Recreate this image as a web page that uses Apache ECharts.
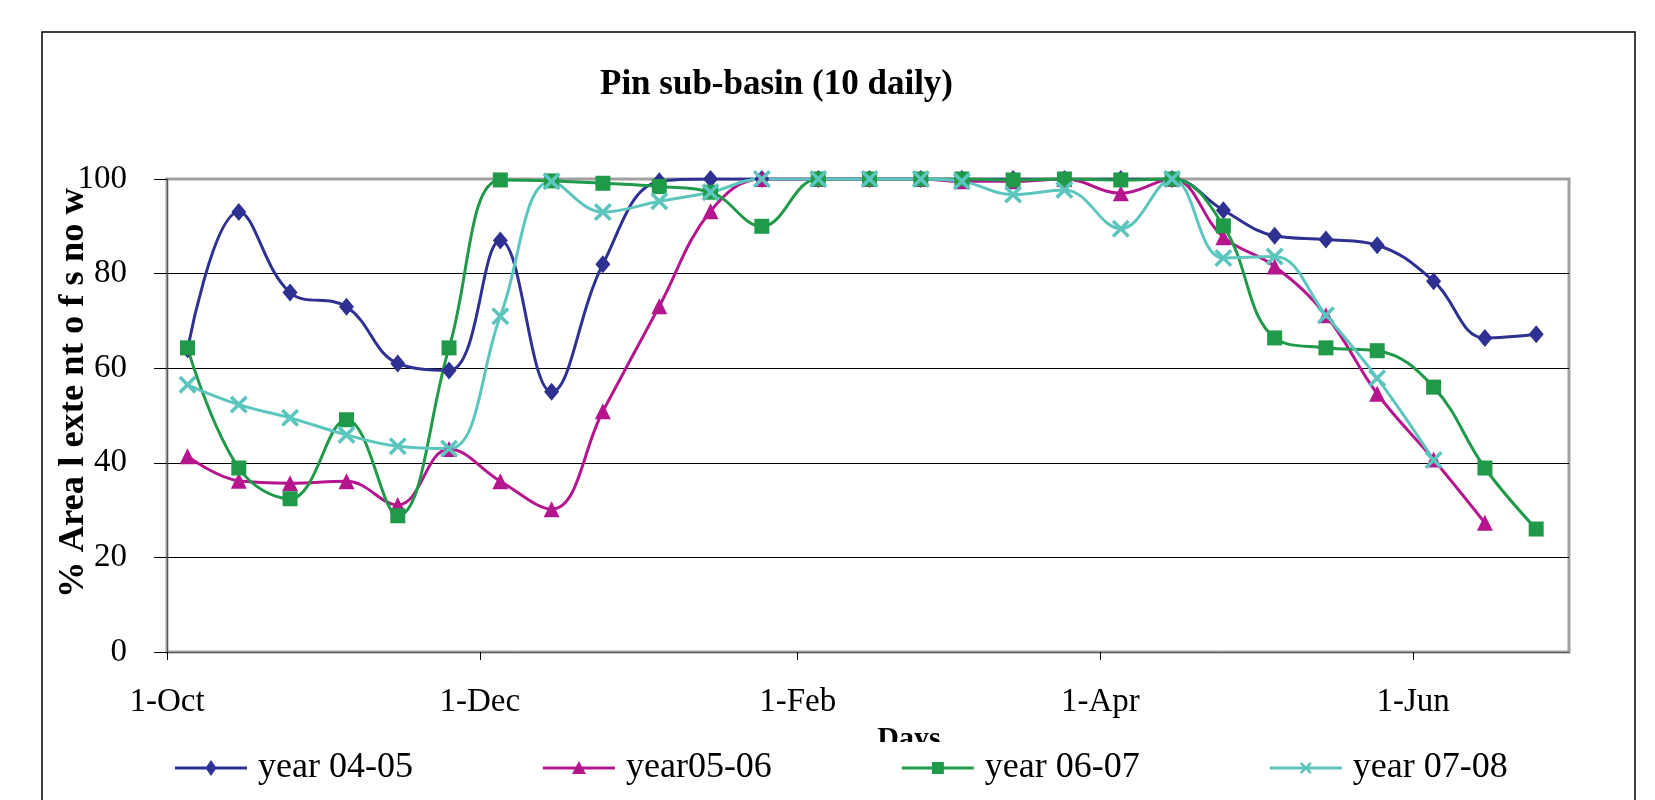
<!DOCTYPE html>
<html>
<head>
<meta charset="utf-8">
<script src="https://cdn.jsdelivr.net/npm/echarts@6/dist/echarts.min.js"></script>
<style>
html,body{margin:0;padding:0;background:#fff;}
#chart{width:1655px;height:800px;}
</style>
</head>
<body>
<div id="chart"></div>
<script>
// Days counted from 1-Oct (10-daily: 5th, 15th, 25th of each month)
const days = [4,14,24,35,45,55,65,75,85,96,106,116,127,137,147,155,165,175,186,196,206,216,226,236,247,257,267];
const tickDays = [0,61,123,182,243];
const tickLabels = ['1-Oct','1-Dec','1-Feb','1-Apr','1-Jun'];
const seriesNames = ['year 04-05','year05-06','year 06-07','year 07-08'];
const year0405 = [64,93,76,73,61,59.5,87,55,82,99.5,100,100,100,100,100,100,100,100,100,100,93.4,88,87.2,86,78.4,66.4,67.2];
const year0506 = [41.4,36.2,35.7,36.1,31.1,42.9,36.1,30.2,50.9,73.1,93.2,100,100,100,100,99.5,99.5,100,97,100,87.7,81.5,71.2,54.6,40.7,27.3,null];
const year0607 = [64.3,38.9,32.4,49.1,28.8,64.3,99.8,99.6,99.1,98.4,97.2,90,100,100,100,100,99.8,100,99.8,100,90.1,66.4,64.3,63.7,56,38.9,26];
const year0708 = [56.5,52.3,49.5,45.9,43.5,43,71,99.5,93,95.3,97.2,100,100,100,100,99.5,96.7,97.7,89.5,100,83.3,83.6,71.2,57.9,40.6,null,null];
const yTickInterval = 20;

const colors = ['#2e3192','#b5168e','#1f9a48','#5cc6be'];
const symbols = ['diamond','triangle','rect','path://M0,1.4 L1.4,0 L5,3.6 L8.6,0 L10,1.4 L6.4,5 L10,8.6 L8.6,10 L5,6.4 L1.4,10 L0,8.6 L3.6,5 Z'];
const symbolSizes = [[15,18],16,15,18];
const allValues = [year0405, year0506, year0607, year0708];

// legend icons: 3px line with marker in the middle (72 x 16 box)
const legendLine = 'M0,6.5 L72,6.5 L72,9.5 L0,9.5 Z ';
const legendIcons = [
  'path://' + legendLine + 'M36,0 L41.5,8 L36,16 L30.5,8 Z',
  'path://' + legendLine + 'M36,1 L43,14 L29,14 Z M0,0 L0,0 M72,16 L72,16',
  'path://' + legendLine + 'M30,2 L42,2 L42,14 L30,14 Z M0,0 L0,0 M72,16 L72,16',
  'path://' + legendLine + 'M30,3.7 L31.7,2 L36,6.3 L40.3,2 L42,3.7 L37.7,8 L42,12.3 L40.3,14 L36,9.7 L31.7,14 L30,12.3 L34.3,8 Z M0,0 L0,0 M72,16 L72,16'
];

const font = '"Liberation Serif", "Times New Roman", serif';

const chart = echarts.init(document.getElementById('chart'));
chart.setOption({
  animation: false,
  backgroundColor: '#fff',
  title: {
    text: 'Pin sub-basin (10 daily)',
    left: 595,
    top: 62,
    textStyle: {fontFamily: font, fontWeight: 'bold', fontSize: 35, color: '#000'}
  },
  graphic: [
    {type: 'rect', z: -10, silent: true, shape: {x: 42, y: 32, width: 1593, height: 800},
     style: {fill: 'none', stroke: '#000', lineWidth: 1.5}},
    {type: 'text', z: 10, x: 74, y: 393, rotation: Math.PI / 2,
     style: {text: '% Area l exte nt o f s no w', font: 'bold 36.5px ' + font, fill: '#000',
             align: 'center', verticalAlign: 'middle', textAlign: 'center', textVerticalAlign: 'middle'}}
  ],
  grid: {
    left: 167, top: 179, width: 1402, height: 473,
    show: true, borderColor: '#a0a0a0', borderWidth: 3, backgroundColor: 'transparent'
  },
  xAxis: {
    type: 'value', min: 0, max: 273.4,
    name: 'Days', nameLocation: 'middle', nameGap: 44,
    nameTextStyle: {fontFamily: font, fontWeight: 'bold', fontSize: 30, color: '#000', padding: [0, 0, 0, 82]},
    axisLine: {show: true, lineStyle: {color: '#555', width: 1}},
    axisTick: {show: true, length: 8, lineStyle: {color: '#000'}, customValues: tickDays},
    axisLabel: {
      fontFamily: font, fontSize: 33, color: '#000', margin: 34,
      customValues: tickDays,
      formatter: function (v) { const i = tickDays.indexOf(v); return i >= 0 ? tickLabels[i] : ''; }
    },
    splitLine: {show: false}
  },
  yAxis: {
    type: 'value', min: 0, max: 100, interval: yTickInterval,
    axisLine: {show: true, lineStyle: {color: '#555', width: 1}},
    axisTick: {show: true, length: 13, lineStyle: {color: '#000'}},
    axisLabel: {fontFamily: font, fontSize: 33, color: '#000', margin: 40},
    splitLine: {show: true, showMinLine: false, showMaxLine: false, lineStyle: {color: '#000', width: 1.2}}
  },
  legend: {
    left: 165, top: 742,
    padding: [8, 10, 10, 10],
    backgroundColor: '#fff',
    itemWidth: 72, itemHeight: 16, itemGap: 130,
    data: seriesNames.map(function (n, k) { return {name: n, icon: legendIcons[k]}; }),
    textStyle: {fontFamily: font, fontSize: 36, color: '#000', padding: [0, 0, 0, 6]}
  },
  series: seriesNames.map(function (name, k) {
    return {
      name: name,
      type: 'line',
      smooth: 0.4,
      symbol: symbols[k],
      symbolSize: symbolSizes[k],
      showAllSymbol: true,
      lineStyle: {color: colors[k], width: 3},
      itemStyle: {color: colors[k]},
      data: days.map(function (d, i) { return [d, allValues[k][i]]; })
    };
  })
});
</script>
</body>
</html>
